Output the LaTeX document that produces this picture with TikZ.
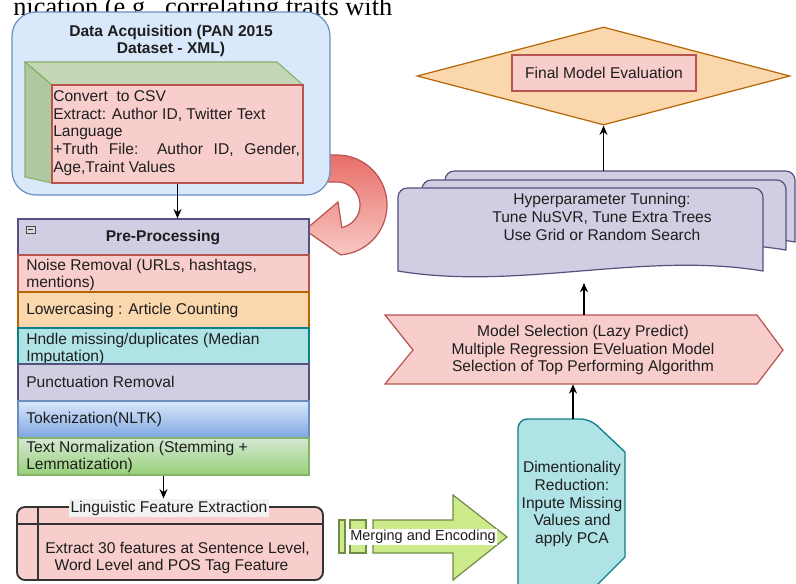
\documentclass[tikz,border=0pt]{standalone}
\usepackage{fontspec}
\setmainfont{Liberation Sans}
\newfontfamily\capfont{Liberation Serif}
\usetikzlibrary{fit,arrows.meta,shapes.geometric}
\definecolor{blueF}{HTML}{DAE8FC}\definecolor{blueS}{HTML}{6C8EBF}
\definecolor{redF}{HTML}{F8CECC}\definecolor{redS}{HTML}{B85450}
\definecolor{orF}{HTML}{FAD7AC}\definecolor{orS}{HTML}{B46504}
\definecolor{tealF}{HTML}{B0E3E6}\definecolor{tealS}{HTML}{0E8088}
\definecolor{purF}{HTML}{D0CEE2}\definecolor{purS}{HTML}{56517E}
\definecolor{grF}{HTML}{D5E8D4}\definecolor{grS}{HTML}{82B366}
\definecolor{grD}{HTML}{97D077}\definecolor{blD}{HTML}{7EA6E0}
\definecolor{limeF}{HTML}{CDEB8B}\definecolor{limeS}{RGB}{112,140,70}
\definecolor{cubeTop}{RGB}{196,214,182}\definecolor{cubeSide}{RGB}{176,200,160}
\definecolor{redD}{RGB}{232,110,104}\definecolor{redL}{RGB}{248,200,196}
\definecolor{txtC}{RGB}{30,30,30}
\begin{document}
\begin{tikzpicture}[x=0.75pt,y=-0.75pt,
  txt/.style={font=\fontsize{11.7}{13.2}\selectfont, inner sep=0pt, text=txtC},
  btxt/.style={font=\fontsize{11.7}{13.2}\selectfont\bfseries, inner sep=0pt, text=txtC},
  box/.style={inner sep=0pt, line width=0.9pt},
  arr/.style={-{Stealth[length=7pt,width=6pt]}, line width=0.8pt, black},
]
\path[use as bounding box, fill=white] (0,0) rectangle (796,583);
\clip (0,0) rectangle (796,583);

% caption fragment
\node[anchor=base west, inner sep=0pt, font=\capfont\fontsize{19.8}{20}\selectfont] (cap) at (13,15) {nication (e.g., correlating traits with};

% curved red arrow
\draw[line width=0.9pt, draw=redS, top color=redD, bottom color=redL]
  (322,155) -- plot[domain=-90:86, samples=40] ({337+50*cos(\x)},{205+50*sin(\x)})
  -- (305,230) -- (338,202)
  -- plot[domain=78:-90, samples=40] ({337+23*cos(\x)},{205+23*sin(\x)})
  -- (322,182) -- cycle;

% data acquisition
\node[fit={(12,12)(330,195)}, box, rounded corners=18pt, draw=blueS, fill=blueF] (acq) {};
\node[btxt, align=center] (acqt) at (171,41) {Data Acquisition (PAN 2015\\Dataset - XML)};
\draw[line width=0.8pt, draw=grS, fill=cubeTop] (25,62) -- (277,62) -- (303,85) -- (52,85) -- cycle;
\draw[line width=0.8pt, draw=grS, fill=cubeSide] (25,62) -- (52,85) -- (52,183) -- (25,177) -- cycle;
\node[fit={(52,85)(303,183)}, box, draw=redS, fill=redF] (csv) {};
\node[txt, align=left, anchor=west] (csvt) at (53,133) {Convert\ \ to CSV\\Extract: Author ID, Twitter Text\\Language\\\makebox[185pt][s]{+Truth File: Author ID, Gender,}\\Age,Traint Values};

% pre-processing
\node[fit={(18,219)(309,255)}, box, draw=purS, fill=purF] (pre) {};
\node[btxt] (pret) at (163,237) {Pre-Processing};
\node[fit={(26,226)(35,233)}, inner sep=0pt, draw=gray!60!black, fill=gray!30, line width=0.4pt] (icon) {};
\draw[line width=0.8pt, gray!40!black] (28,229.5) -- (33,229.5);

\node[fit={(18,255)(309,292)}, box, draw=redS, fill=redF] (r1) {};
\node[txt, align=left, anchor=west] (r1t) at (26,275) {Noise Removal (URLs, hashtags,\\mentions)};
\node[fit={(18,292)(309,328)}, box, draw=orS, fill=orF] (r2) {};
\node[txt, anchor=west] (r2t) at (26,310) {Lowercasing : Article Counting};
\node[fit={(18,328)(309,364)}, box, draw=tealS, fill=tealF] (r3) {};
\node[txt, align=left, anchor=west] (r3t) at (26,349) {Hndle missing/duplicates (Median\\Imputation)};
\node[fit={(18,364)(309,401)}, box, draw=purS, fill=purF] (r4) {};
\node[txt, anchor=west] (r4t) at (26,382) {Punctuation Removal};
\node[fit={(18,401)(309,438)}, box, draw=blueS, top color=blueF, bottom color=blD] (r5) {};
\node[txt, anchor=west] (r5t) at (26,419) {Tokenization(NLTK)};
\node[fit={(18,438)(309,475)}, box, draw=grS, top color=grF, bottom color=grD] (r6) {};
\node[txt, align=left, anchor=west] (r6t) at (26,457) {Text Normalization (Stemming +\\Lemmatization)};

% linguistic feature extraction
\node[fit={(17,507)(323,580)}, inner sep=0pt, rounded corners=6pt, draw=black!80, fill=redF, line width=1.4pt] (feat) {};
\draw[line width=1.4pt, black!80] (17,524) -- (323,524);
\draw[line width=1.4pt, black!80] (38,507) -- (38,580);
\node[txt, fill=gray!10, inner sep=1.5pt] (featlbl) at (169,508) {Linguistic Feature Extraction};
\node[txt, align=left, anchor=west] (featt) at (45,558) {Extract 30 features at Sentence Level,\\\hspace*{7pt}Word Level and POS Tag Feature};

% merging arrow
\draw[line width=0.9pt, draw=limeS, fill=limeF] (339,520) rectangle (345,553);
\draw[line width=0.9pt, draw=limeS, fill=limeF] (350,520) rectangle (366,553);
\draw[line width=0.9pt, draw=limeS, fill=limeF] (373,520) -- (453,520) -- (453,495) -- (507,537) -- (453,580) -- (453,553) -- (373,553) -- cycle;
\node[font=\fontsize{10.9}{12}\selectfont, text=txtC, fill=white, inner sep=1pt] (merge) at (423,537) {Merging and Encoding};

% dimensionality reduction
\draw[line width=1pt, draw=tealS, fill=tealF] (518,600) [rounded corners=7pt] -- (518,419) -- (590,419) [sharp corners] -- (625,452) -- (625,557) -- (590,592) -- (590,600) -- cycle;
\node[fit={(518,419)(628,600)}, inner sep=0pt] (dim) {};
\node[txt, align=center] (dimt) at (572,504) {Dimentionality\\Reduction:\\Inpute Missing\\Values and\\apply PCA};

% model selection
\draw[box, draw=redS, fill=redF] (385,315) -- (757,315) -- (783,350) -- (757,384) -- (385,384) -- (413,350) -- cycle;
\node[fit={(385,315)(783,384)}, inner sep=0pt] (msel) {};
\node[txt, align=center] (mselt) at (583,350) {Model Selection (Lazy Predict)\\Multiple Regression EVeluation Model\\Selection of Top Performing Algorithm};

% hyperparameter tuning (stacked documents)
\draw[box, draw=purS, fill=purF] (445,230) [rounded corners=7pt] -- (445,171) -- (795,171) -- (795,230) [sharp corners] -- (795,242) .. controls (680,222) and (560,262) .. (445,242) -- cycle;
\draw[box, draw=purS, fill=purF] (422,240) [rounded corners=7pt] -- (422,180) -- (786,180) -- (786,240) [sharp corners] -- (786,250) .. controls (666,230) and (542,270) .. (422,250) -- cycle;
\draw[box, draw=purS, fill=purF] (398,250) [rounded corners=7pt] -- (398,188) -- (763,188) -- (763,250) [sharp corners] -- (763,271) .. controls (643,251) and (518,291) .. (398,271) -- cycle;
\node[fit={(398,171)(795,283)}, inner sep=0pt] (hyp) {};
\coordinate (hypin) at (584,283);
\node[txt, align=center] (hypt) at (602,217) {Hyperparameter Tunning:\\Tune NuSVR, Tune Extra Trees\\Use Grid or Random Search};

% final evaluation
\node[diamond, inner sep=0pt, minimum width=373*0.75pt, minimum height=98*0.75pt, draw=orS, fill=orF, line width=0.9pt] (fin) at (603.5,76) {};
\node[txt, draw=redS, fill=redF, line width=0.9pt, minimum width=184*0.75pt, minimum height=36*0.75pt] (finbox) at (604,73) {Final Model Evaluation};

% connectors
\draw[arr] (csv.south) -- (csv.south |- pre.north);
\draw[arr] (r6.south) -- (r6.south |- featlbl.north);
\draw[arr] (dim.north) -- (dim.north |- msel.south);
\draw[arr] (msel.north -| hypin) -- (hypin);
\draw[arr] (fin.south |- hyp.north) -- (fin.south);
\end{tikzpicture}
\end{document}
